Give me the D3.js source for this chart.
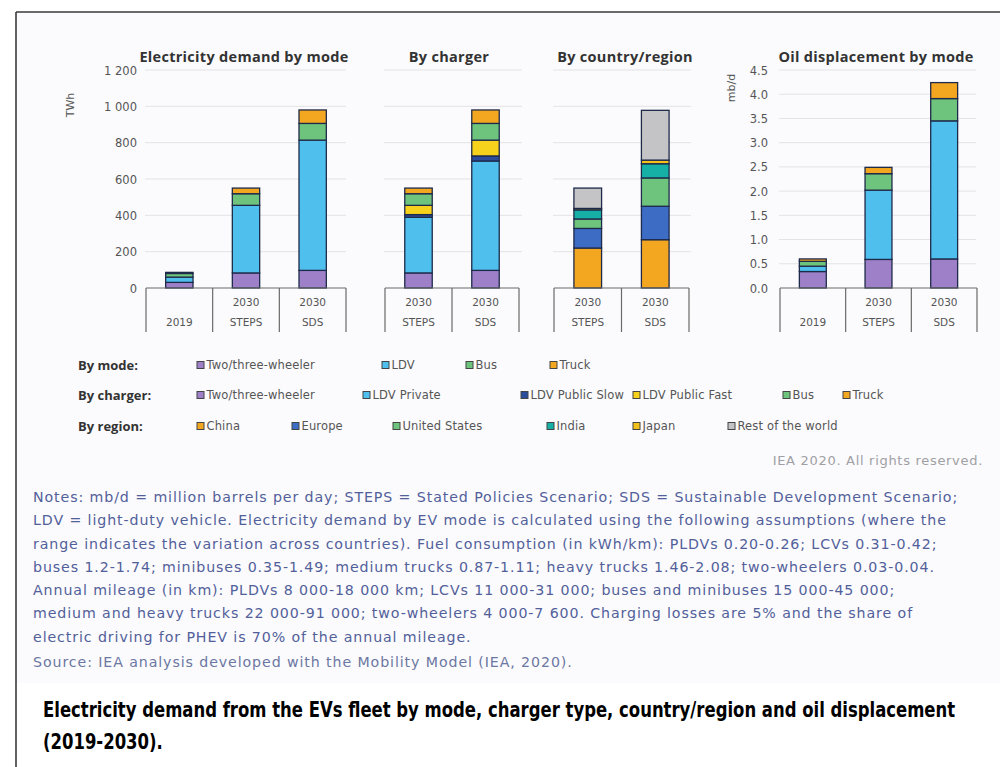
<!DOCTYPE html>
<html>
<head>
<meta charset="utf-8">
<script src="https://cdn.jsdelivr.net/npm/d3@7/dist/d3.min.js"></script>
<style>
  html, body { margin: 0; padding: 0; background: #ffffff; }
  svg { display: block; }
</style>
</head>
<body>
<script>
// ---- Data -------------------------------------------------------------
// Scenario categories
const catsMode = ["2019", "2030 STEPS", "2030 SDS"];
const catsScen = ["2030 STEPS", "2030 SDS"];
const catTopMode = ["", "2030", "2030"];
const catBottomMode = ["2019", "STEPS", "SDS"];
const catTopScen = ["2030", "2030"];
const catBottomScen = ["STEPS", "SDS"];

// Electricity demand by mode (TWh)
const modeKeys = ["Two/three-wheeler", "LDV", "Bus", "Truck"];
const modeTwoThree = [31, 83, 97];
const modeLDV = [29, 372, 717];
const modeBus = [20, 64, 92];
const modeTruck = [6, 31, 74];

// Electricity demand by charger (TWh)
const chargerKeys = ["Two/three-wheeler", "LDV Private", "LDV Public Slow", "LDV Public Fast", "Bus", "Truck"];
const chargerTwoThree = [83, 97];
const chargerLDVPrivate = [306, 602];
const chargerLDVPublicSlow = [15, 28];
const chargerLDVPublicFast = [51, 87];
const chargerBus = [64, 92];
const chargerTruck = [31, 74];

// Electricity demand by country/region (TWh)
const regionKeys = ["China", "Europe", "United States", "India", "Japan", "Rest of the world"];
const regionChina = [220, 266];
const regionEurope = [108, 184];
const regionUS = [52, 156];
const regionIndia = [50, 78];
const regionJapan = [8, 20];
const regionRest = [112, 274];

// Oil displacement by mode (mb/d)
const oilTwoThree = [0.34, 0.59, 0.60];
const oilLDV = [0.11, 1.43, 2.85];
const oilBus = [0.10, 0.34, 0.46];
const oilTruck = [0.05, 0.13, 0.33];

// Axis ticks
const twhTicks = [0, 200, 400, 600, 800, 1000, 1200];
const mbdTicks = [0, 0.5, 1, 1.5, 2, 2.5, 3, 3.5, 4, 4.5];

// Notes and caption text
const notesLines = [
  "Notes: mb/d = million barrels per day; STEPS = Stated Policies Scenario; SDS = Sustainable Development Scenario;",
  "LDV = light-duty vehicle. Electricity demand by EV mode is calculated using the following assumptions (where the",
  "range indicates the variation across countries). Fuel consumption (in kWh/km): PLDVs 0.20-0.26; LCVs 0.31-0.42;",
  "buses 1.2-1.74; minibuses 0.35-1.49; medium trucks 0.87-1.11; heavy trucks 1.46-2.08; two-wheelers 0.03-0.04.",
  "Annual mileage (in km): PLDVs 8 000-18 000 km; LCVs 11 000-31 000; buses and minibuses 15 000-45 000;",
  "medium and heavy trucks 22 000-91 000; two-wheelers 4 000-7 600. Charging losses are 5% and the share of",
  "electric driving for PHEV is 70% of the annual mileage."
];
const sourceLine = "Source: IEA analysis developed with the Mobility Model (IEA, 2020).";
const captionLines = [
  "Electricity demand from the EVs fleet by mode, charger type, country/region and oil displacement",
  "(2019-2030)."
];

// ---- Colours ----------------------------------------------------------
const C = {
  purple: "#9d80c8",
  sky: "#4fc0ee",
  navy: "#2b4c9b",
  yellow: "#f6d21c",
  green: "#6fc47d",
  orange: "#f3a61f",
  blue: "#3c6cc3",
  teal: "#17b0a6",
  gold: "#f2c21b",
  grey: "#c4c4c6"
};
const modeColors = [C.purple, C.sky, C.green, C.orange];
const chargerColors = [C.purple, C.sky, C.navy, C.yellow, C.green, C.orange];
const regionColors = [C.orange, C.blue, C.green, C.teal, C.gold, C.grey];

// ---- Canvas -----------------------------------------------------------
const W = 1000, H = 767;
const svg = d3.select("body").append("svg").attr("width", W).attr("height", H);

const FONT = "'DejaVu Sans', Verdana, sans-serif";
const FONT_B = "'Open Sans', 'DejaVu Sans', sans-serif";

// graphic background and frame
svg.append("rect").attr("x", 16).attr("y", 12).attr("width", W - 16).attr("height", 671).attr("fill", "#fbfbfd");
svg.append("line").attr("x1", 16).attr("x2", W).attr("y1", 12).attr("y2", 12).attr("stroke", "#3a3a3a").attr("stroke-width", 1.6);
svg.append("line").attr("x1", 16).attr("x2", 16).attr("y1", 12).attr("y2", H).attr("stroke", "#3a3a3a").attr("stroke-width", 1.6);

// shared vertical scales
const yTop = 70, yBase = 288;
const yTWh = d3.scaleLinear().domain([0, 1200]).range([yBase, yTop]);
const yMbd = d3.scaleLinear().domain([0, 4.5]).range([yBase, yTop]);

const fmtTWh = d3.formatLocale({ decimal: ".", thousands: " ", grouping: [3], currency: ["", ""] }).format(",");
const fmtMbd = d3.format(".1f");

function buildRows(cats, keys, series) {
  return cats.map((c, i) => {
    const o = { cat: c };
    keys.forEach((k, j) => { o[k] = series[j][i]; });
    return o;
  });
}

function drawPanel(opt) {
  const g = svg.append("g");
  const x = d3.scaleBand().domain(opt.cats).range(opt.xRange).paddingInner(0).paddingOuter(0);
  const y = opt.y;

  // gridlines
  g.append("g").selectAll("line").data(opt.ticks.filter(t => t > 0)).join("line")
    .attr("x1", opt.gridRange[0]).attr("x2", opt.gridRange[1])
    .attr("y1", d => y(d)).attr("y2", d => y(d))
    .attr("stroke", "#e3e3e6").attr("stroke-width", 1);

  // value axis labels
  if (opt.axisX != null) {
    const ax = g.append("g").attr("transform", `translate(${opt.axisX},0)`)
      .call(d3.axisLeft(y).tickValues(opt.ticks).tickFormat(opt.fmt).tickSize(0).tickPadding(0));
    ax.select(".domain").remove();
    ax.selectAll("text").attr("font-family", FONT).attr("font-size", 11.5).attr("fill", "#555").attr("dy", "0.35em");
    g.append("text")
      .attr("transform", `translate(${opt.unitX},${opt.unitY}) rotate(-90)`)
      .attr("text-anchor", "middle").attr("dy", "0.35em")
      .attr("font-family", FONT).attr("font-size", 11).attr("fill", "#555")
      .text(opt.unit);
  }

  // stacked bars
  const rows = buildRows(opt.cats, opt.keys, opt.series);
  const stacked = d3.stack().keys(opt.keys)(rows);
  const bw = x.bandwidth() * 0.41;
  stacked.forEach((layer, li) => {
    g.append("g").selectAll("rect").data(layer).join("rect")
      .attr("x", d => x(d.data.cat) + (x.bandwidth() - bw) / 2)
      .attr("y", d => y(d[1]))
      .attr("width", bw)
      .attr("height", d => Math.max(0, y(d[0]) - y(d[1])))
      .attr("fill", opt.colors[li])
      .attr("stroke", "#1e2a4a").attr("stroke-width", 1.3);
  });

  // category box axis
  const axisG = g.append("g").attr("stroke", "#6a6a6a").attr("stroke-width", 1.2);
  axisG.append("line").attr("x1", opt.xRange[0]).attr("x2", opt.xRange[1]).attr("y1", yBase).attr("y2", yBase);
  const bounds = opt.cats.map(c => x(c)).concat([opt.xRange[1]]);
  axisG.selectAll("line.b").data(bounds).join("line").attr("class", "b")
    .attr("x1", d => d).attr("x2", d => d).attr("y1", yBase).attr("y2", 332);
  const lab = g.append("g").attr("font-family", FONT).attr("font-size", 10.5).attr("fill", "#555").attr("text-anchor", "middle");
  opt.cats.forEach((c, i) => {
    const cx = x(c) + x.bandwidth() / 2;
    if (opt.catTop[i]) lab.append("text").attr("x", cx).attr("y", 306).text(opt.catTop[i]);
    lab.append("text").attr("x", cx).attr("y", 326).text(opt.catBottom[i]);
  });

  // title
  g.append("text").attr("x", opt.titleX).attr("y", 62).attr("text-anchor", "middle")
    .attr("font-family", FONT_B).attr("font-weight", 700).attr("font-size", 14.5)
    .attr("letter-spacing", 0.3).attr("fill", "#333")
    .text(opt.title);
}

drawPanel({
  cats: catsMode, catTop: catTopMode, catBottom: catBottomMode,
  keys: modeKeys, colors: modeColors,
  series: [modeTwoThree, modeLDV, modeBus, modeTruck],
  xRange: [146, 346], gridRange: [145, 346], y: yTWh, ticks: twhTicks, fmt: fmtTWh,
  axisX: 137, unit: "TWh", unitX: 70, unitY: 105,
  title: "Electricity demand by mode", titleX: 244
});
drawPanel({
  cats: catsScen, catTop: catTopScen, catBottom: catBottomScen,
  keys: chargerKeys, colors: chargerColors,
  series: [chargerTwoThree, chargerLDVPrivate, chargerLDVPublicSlow, chargerLDVPublicFast, chargerBus, chargerTruck],
  xRange: [385, 519], gridRange: [384, 522], y: yTWh, ticks: twhTicks, fmt: fmtTWh,
  axisX: null, title: "By charger", titleX: 449
});
drawPanel({
  cats: catsScen, catTop: catTopScen, catBottom: catBottomScen,
  keys: regionKeys, colors: regionColors,
  series: [regionChina, regionEurope, regionUS, regionIndia, regionJapan, regionRest],
  xRange: [554, 689], gridRange: [553, 691], y: yTWh, ticks: twhTicks, fmt: fmtTWh,
  axisX: null, title: "By country/region", titleX: 625
});
drawPanel({
  cats: catsMode, catTop: catTopMode, catBottom: catBottomMode,
  keys: modeKeys, colors: modeColors,
  series: [oilTwoThree, oilLDV, oilBus, oilTruck],
  xRange: [780, 977], gridRange: [779, 976], y: yMbd, ticks: mbdTicks, fmt: fmtMbd,
  axisX: 768, unit: "mb/d", unitX: 731, unitY: 88,
  title: "Oil displacement by mode", titleX: 876
});

// ---- Legend -----------------------------------------------------------
const legendRows = [
  { label: "By mode:", y: 365, keys: modeKeys, colors: modeColors, xs: [197, 382, 466, 550] },
  { label: "By charger:", y: 395, keys: chargerKeys, colors: chargerColors, xs: [197, 363, 521, 633, 783, 843] },
  { label: "By region:", y: 426, keys: regionKeys, colors: regionColors, xs: [197, 292, 393, 547, 633, 728] }
];
const lg = svg.append("g");
legendRows.forEach(r => {
  lg.append("text").attr("x", 78).attr("y", r.y).attr("dy", "0.35em")
    .attr("font-family", FONT_B).attr("font-weight", 700).attr("font-size", 13).attr("fill", "#333").text(r.label);
  r.keys.forEach((k, i) => {
    lg.append("rect").attr("x", r.xs[i]).attr("y", r.y - 3.5).attr("width", 7).attr("height", 7)
      .attr("fill", r.colors[i]).attr("stroke", "#444").attr("stroke-width", 1);
    lg.append("text").attr("x", r.xs[i] + 9.5).attr("y", r.y).attr("dy", "0.35em")
      .attr("font-family", FONT).attr("font-size", 11.5).attr("letter-spacing", 0.15)
      .attr("fill", "#555").text(k);
  });
});

// rights line
svg.append("text").attr("x", 983).attr("y", 460).attr("dy", "0.35em").attr("text-anchor", "end")
  .attr("font-family", FONT).attr("font-size", 13).attr("letter-spacing", 0.7)
  .attr("fill", "#a0a0a4").text("IEA 2020. All rights reserved.");

// ---- Notes ------------------------------------------------------------
const ng = svg.append("g").attr("font-family", FONT).attr("font-size", 14.2)
  .attr("letter-spacing", 0.9).attr("fill", "#52609a");
notesLines.forEach((t, i) => {
  ng.append("text").attr("x", 33).attr("y", 497 + i * 23.3).attr("dy", "0.35em").text(t);
});
ng.append("text").attr("x", 33).attr("y", 662).attr("dy", "0.35em").attr("fill", "#6c77a2").text(sourceLine);

// ---- Caption ----------------------------------------------------------
// condensed bold caption, stretched horizontally to its column width
const capFont = "'DejaVu Sans Condensed', 'Liberation Sans Narrow', 'Arial Narrow', sans-serif";
const capW = 913;
const cap0 = svg.append("text").attr("font-family", capFont).attr("font-weight", 700)
  .attr("font-size", 21).attr("fill", "#000").text(captionLines[0]);
const natural = cap0.node().getComputedTextLength();
const sx = capW / natural;
cap0.attr("transform", `translate(43,717) scale(${sx},1)`);
svg.append("text").attr("font-family", capFont).attr("font-weight", 700)
  .attr("font-size", 21).attr("fill", "#000")
  .attr("transform", `translate(43,749) scale(${sx},1)`).text(captionLines[1]);
</script>
</body>
</html>
